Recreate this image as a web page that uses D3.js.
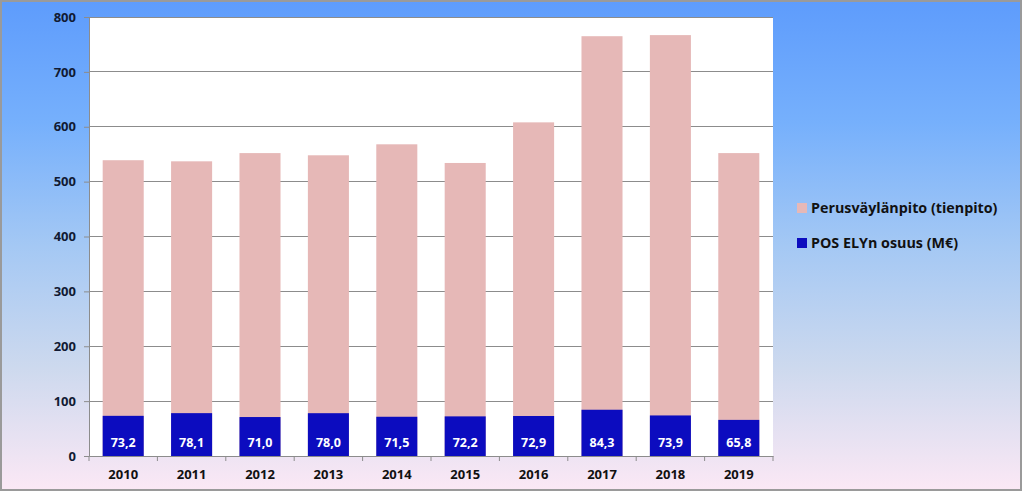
<!DOCTYPE html>
<html><head><meta charset="utf-8">
<script src="https://cdn.jsdelivr.net/npm/d3@7"></script>
<style>html,body{margin:0;padding:0;background:#fff;}svg{display:block;}</style>
</head><body>
<script>
const years = ["2010","2011","2012","2013","2014","2015","2016","2017","2018","2019"];
const totalValues = [539, 537, 552, 548, 568, 534, 608, 765, 767, 552];
const posValues = [73.2, 78.1, 71.0, 78.0, 71.5, 72.2, 72.9, 84.3, 73.9, 65.8];
const yTicks = [0,100,200,300,400,500,600,700,800];
const seriesNames = ["Perusväylänpito (tienpito)", "POS ELYn osuus (M€)"];
const seriesColors = ["#e6b8b7", "#0c0cbf"];

(function(){
const W = 1024, H = 495;
const svg = d3.select("body").append("svg").attr("width", W).attr("height", H);
const defs = svg.append("defs");
const g = defs.append("linearGradient").attr("id","bg").attr("x1",0).attr("y1",0).attr("x2",0).attr("y2",1);
[[0,"#5e9cfc"],[0.25,"#76b0fc"],[0.5,"#a4c8f4"],[0.75,"#cdd9ee"],[1,"#fbe8f5"]].forEach(([o,c])=>g.append("stop").attr("offset",o).attr("stop-color",c));
svg.append("rect").attr("x",1).attr("y",1).attr("width",1020).attr("height",489).attr("fill","url(#bg)").attr("stroke","#9a9a9a").attr("stroke-width",2);

const pL = 89, pR = 773, pT = 17, pB = 456;
svg.append("rect").attr("x",pL).attr("y",pT).attr("width",pR-pL).attr("height",pB-pT).attr("fill","#fff");

const x = d3.scaleBand().domain(years).range([pL,pR]).paddingInner(0.4).paddingOuter(0.2);
const y = d3.scaleLinear().domain([0,800]).range([pB,pT]);

svg.append("g").selectAll("line").data(yTicks.filter(d=>d>0)).join("line")
  .attr("x1",pL).attr("x2",pR).attr("y1",d=>y(d)).attr("y2",d=>y(d))
  .attr("stroke","#8c8c8c").attr("stroke-width",1).attr("shape-rendering","crispEdges");

svg.append("g").selectAll("rect").data(years).join("rect")
  .attr("x",d=>x(d)).attr("width",x.bandwidth())
  .attr("y",(d,i)=>y(totalValues[i])).attr("height",(d,i)=>y(0)-y(totalValues[i]))
  .attr("fill",seriesColors[0]);
svg.append("g").selectAll("rect").data(years).join("rect")
  .attr("x",d=>x(d)).attr("width",x.bandwidth())
  .attr("y",(d,i)=>y(posValues[i])).attr("height",(d,i)=>y(0)-y(posValues[i]))
  .attr("fill",seriesColors[1]);

svg.append("g").selectAll("text").data(years).join("text")
  .attr("x",d=>x(d)+x.bandwidth()/2).attr("y",y(0)-9)
  .attr("text-anchor","middle").attr("fill","#fff")
  .attr("font-family","Open Sans, sans-serif").attr("font-weight","bold").attr("font-size",12.5)
  .text((d,i)=>posValues[i].toFixed(1).replace(".",","));

const yAxis = d3.axisLeft(y).tickValues(yTicks).tickSize(5).tickPadding(8);
const ya = svg.append("g").attr("transform",`translate(${pL},0)`).call(yAxis);
ya.select(".domain").attr("stroke","#8c8c8c");
ya.selectAll(".tick line").attr("stroke","#8c8c8c");
ya.selectAll("text").attr("font-family","Open Sans, sans-serif").attr("font-weight","bold").attr("font-size",13).attr("fill","#111a33");

const xa = svg.append("g").attr("transform",`translate(0,${pB})`).call(d3.axisBottom(x).tickSize(0).tickPadding(14));
xa.select(".domain").attr("stroke","#8c8c8c");
xa.selectAll("text").attr("font-family","Open Sans, sans-serif").attr("font-weight","bold").attr("font-size",13).attr("fill","#111");
svg.append("g").selectAll("line").data(d3.range(years.length+1)).join("line")
  .attr("x1",i=>pL+i*(pR-pL)/years.length).attr("x2",i=>pL+i*(pR-pL)/years.length)
  .attr("y1",pB).attr("y2",pB+5).attr("stroke","#8c8c8c");

const lg = svg.append("g").selectAll("g").data(seriesNames).join("g")
  .attr("transform",(d,i)=>`translate(797,${203+i*35})`);
lg.append("rect").attr("width",10).attr("height",10).attr("fill",(d,i)=>seriesColors[i]);
lg.append("text").attr("x",14).attr("y",10).text(d=>d)
  .attr("font-family","Open Sans, sans-serif").attr("font-weight","bold").attr("font-size",14.3).attr("fill","#111");
})();
</script>
</body></html>
